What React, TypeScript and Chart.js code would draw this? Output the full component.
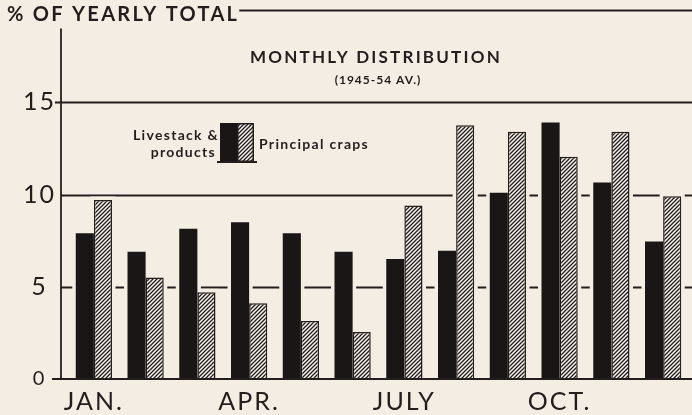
import React, { useEffect, useRef } from 'react';
import { Chart, registerables } from 'chart.js';

Chart.register(...registerables);

// ---- data ----
const months = ['JAN.', 'FEB.', 'MAR.', 'APR.', 'MAY', 'JUNE', 'JULY', 'AUG.', 'SEPT.', 'OCT.', 'NOV.', 'DEC.'];
const shownMonthLabels = ['JAN.', 'APR.', 'JULY', 'OCT.'];
const livestock = [7.9, 6.9, 8.15, 8.5, 7.9, 6.9, 6.5, 6.95, 10.1, 13.9, 10.65, 7.45];
const crops = [9.7, 5.5, 4.7, 4.1, 3.15, 2.55, 9.4, 13.75, 13.4, 12.05, 13.4, 9.9];
const yTicks = [0, 5, 10, 15];
const seriesNames = ['Livestack & products', 'Principal craps'];
const axisTitle = '% OF YEARLY TOTAL';
const chartTitle = 'MONTHLY DISTRIBUTION';
const chartSubtitle = '(1945-54 AV.)';

// ---- styles ----
const BG = '#f3ede4';
const INK = '#241d1d';
const BAR = '#1b1616';
const HATCH_BG = '#f8f4ee';

function makeHatch(): CanvasPattern {
  const s = 4;
  const c = document.createElement('canvas');
  c.width = s;
  c.height = s;
  const g = c.getContext('2d')!;
  g.fillStyle = HATCH_BG;
  g.fillRect(0, 0, s, s);
  g.strokeStyle = INK;
  g.lineWidth = 1.3;
  g.beginPath();
  g.moveTo(-1, s + 1);
  g.lineTo(s + 1, -1);
  g.moveTo(-1, 1);
  g.lineTo(1, -1);
  g.moveTo(s - 1, s + 1);
  g.lineTo(s + 1, s - 1);
  g.stroke();
  return g.createPattern(c, 'repeat')!;
}

function makePlugin(hatch: CanvasPattern) {
  return {
    id: 'frame',
    beforeLayout(chart: any) {
      chart.ctx.letterSpacing = '2px';
    },
    beforeDraw(chart: any) {
      const { ctx, width, height } = chart;
      ctx.save();
      ctx.fillStyle = BG;
      ctx.fillRect(0, 0, width, height);
      ctx.restore();
      ctx.letterSpacing = '2px';
    },
    beforeDatasetsDraw(chart: any) {
      const { ctx, chartArea, scales } = chart;
      const y = scales.y;
      const axisX = chartArea.left - 7;
      ctx.save();
      ctx.strokeStyle = INK;
      ctx.lineWidth = 1.8;
      // horizontal grid lines
      [5, 10, 15].forEach((v) => {
        const py = Math.round(y.getPixelForValue(v)) + 0.5;
        ctx.beginPath();
        ctx.moveTo(v === 15 ? axisX - 6 : axisX, py);
        ctx.lineTo(chart.width, py);
        ctx.stroke();
      });
      // halos around bars
      ctx.fillStyle = BG;
      chart.data.datasets.forEach((_: any, di: number) => {
        chart.getDatasetMeta(di).data.forEach((el: any) => {
          const p = el.getProps(['x', 'y', 'width', 'base'], true);
          ctx.fillRect(p.x - p.width / 2 - 3.5, p.y - 3.5, p.width + 7, p.base - p.y + 3.5 - 2);
        });
      });
      ctx.restore();
    },
    afterDatasetsDraw(chart: any) {
      const { ctx, chartArea, scales } = chart;
      const y = scales.y;
      const axisX = chartArea.left - 7;
      ctx.save();
      ctx.strokeStyle = INK;
      ctx.lineWidth = 2;
      // baseline
      const by = y.getPixelForValue(0);
      ctx.beginPath();
      ctx.moveTo(axisX - 9, by);
      ctx.lineTo(chart.width, by);
      ctx.stroke();
      // y axis line
      ctx.lineWidth = 1.8;
      ctx.beginPath();
      ctx.moveTo(axisX, y.getPixelForValue(19));
      ctx.lineTo(axisX, by);
      ctx.stroke();

      ctx.fillStyle = INK;
      ctx.textBaseline = 'alphabetic';
      // axis title + top rule
      ctx.letterSpacing = '2.3px';
      ctx.font = 'bold 20px Lato';
      ctx.textAlign = 'left';
      ctx.fillText(axisTitle, 7, 21);
      const tw = ctx.measureText(axisTitle).width;
      const ty = y.getPixelForValue(20) + 0.5;
      ctx.beginPath();
      ctx.moveTo(7 + tw, ty);
      ctx.lineTo(chart.width, ty);
      ctx.stroke();

      // chart title
      ctx.textAlign = 'center';
      ctx.font = 'bold 17px Lato';
      ctx.letterSpacing = '2.2px';
      ctx.fillText(chartTitle, 376, 63);
      ctx.font = 'bold 12px Lato';
      ctx.letterSpacing = '1px';
      ctx.fillText(chartSubtitle, 378, 84);

      // legend
      const sx = 220;
      const sTop = 123;
      const sBot = 162;
      const sw = 17;
      ctx.fillStyle = BAR;
      ctx.fillRect(sx, sTop, sw, sBot - sTop);
      ctx.fillStyle = hatch;
      ctx.fillRect(sx + sw, sTop, sw, sBot - sTop);
      ctx.lineWidth = 1.5;
      ctx.strokeRect(sx + sw + 0.75, sTop + 0.75, sw - 1.5, sBot - sTop - 1.5);
      ctx.lineWidth = 2;
      ctx.beginPath();
      ctx.moveTo(sx - 3, sBot);
      ctx.lineTo(sx + 2 * sw + 3, sBot);
      ctx.stroke();

      ctx.fillStyle = INK;
      ctx.font = 'bold 14px Lato';
      ctx.letterSpacing = '1.3px';
      ctx.textAlign = 'right';
      const parts = seriesNames[0].split(' ');
      ctx.fillText(parts.slice(0, 2).join(' '), sx - 1, 140);
      ctx.fillText(parts.slice(2).join(' '), sx - 4, 157);
      ctx.textAlign = 'left';
      ctx.fillText(seriesNames[1], sx + 2 * sw + 5, 149);
      ctx.restore();
      ctx.letterSpacing = '2px';
    },
  };
}

export default function App() {
  const ref = useRef<HTMLCanvasElement>(null);
  useEffect(() => {
    const canvas = ref.current!;
    const hatch = makeHatch();
    const chart = new Chart(canvas, {
      type: 'bar',
      data: {
        labels: months,
        datasets: [
          {
            label: seriesNames[0],
            data: livestock,
            backgroundColor: BAR,
            borderWidth: 0,
            categoryPercentage: 0.7,
            barPercentage: 1,
          },
          {
            label: seriesNames[1],
            data: crops,
            backgroundColor: hatch as any,
            borderColor: INK,
            borderWidth: 1.5,
            categoryPercentage: 0.7,
            barPercentage: 1,
          },
        ],
      },
      options: {
        animation: false,
        responsive: false,
        devicePixelRatio: 1,
        layout: { autoPadding: false, padding: { top: 10, right: 3, left: 0, bottom: 0 } },
        plugins: {
          legend: { display: false },
          tooltip: { enabled: false },
          title: { display: false },
        },
        scales: {
          x: {
            grid: { display: false, drawTicks: false },
            border: { display: false },
            ticks: {
              autoSkip: false,
              maxRotation: 0,
              padding: 8,
              color: INK,
              font: { family: 'Lato', size: 25 },
              callback: (_v: any, i: number) => (shownMonthLabels.includes(months[i]) ? months[i] : ''),
            },
            afterFit: (s: any) => {
              s.height = 36;
              s.paddingLeft = 0;
              s.paddingRight = 0;
            },
          },
          y: {
            min: 0,
            max: 20,
            grid: { display: false, drawTicks: false },
            border: { display: false },
            ticks: {
              stepSize: 5,
              padding: 12,
              crossAlign: 'center',
              color: INK,
              font: (c: any) => ({ family: 'Lato', size: c.tick && c.tick.value === 0 ? 20 : 25 }),
              callback: (v: any) => (yTicks.includes(Number(v)) ? String(v) : ''),
            },
            afterFit: (s: any) => {
              s.width = 68;
              s.paddingTop = 0;
              s.paddingBottom = 0;
            },
          },
        },
      } as any,
      plugins: [makePlugin(hatch)],
    });
    return () => chart.destroy();
  }, []);

  return (
    <div style={{ position: 'fixed', left: 0, top: 0, width: 692, height: 415, background: BG }}>
      <canvas ref={ref} width={692} height={415} style={{ display: 'block', width: 692, height: 415 }} />
    </div>
  );
}
